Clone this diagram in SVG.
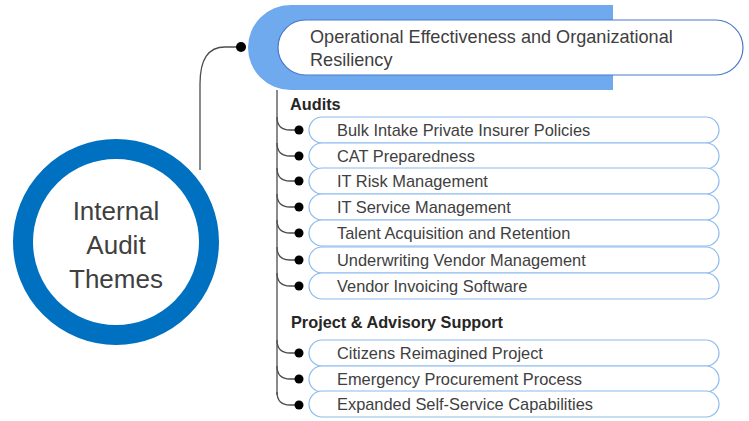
<svg xmlns="http://www.w3.org/2000/svg" width="749" height="421" viewBox="0 0 749 421">
  <style>
    .txt { font-family: "Liberation Sans", Arial, sans-serif; fill: #404040; }
    .item { fill: #ffffff; stroke: #8cbaf0; stroke-width: 1.2; }
    .item-label { font-size: 16.4px; }
    .heading { font-size: 16.3px; font-weight: bold; fill: #262626; }
    .conn { fill: none; stroke: #4d4d4d; stroke-width: 1.3; }
    .dot { fill: #000000; }
  </style>
  <defs>
    <rect id="pill" x="309" y="0" width="410" height="26" rx="13" ry="13" class="item"/>
  </defs>

  <!-- Connectors -->
  <g id="connectors">
    <path class="conn" d="M 200 170 V 84 Q 200 47 225 47 H 241" stroke="#333"/>
    <circle class="dot" cx="241" cy="47" r="5"/>
    <path class="conn" d="M 277 90 V 395"/>
    <g id="branches">
      <path class="conn" d="M 277 117 Q 277 130 290 130 H 299"/>
      <path class="conn" d="M 277 143 Q 277 156 290 156 H 299"/>
      <path class="conn" d="M 277 168 Q 277 181 290 181 H 299"/>
      <path class="conn" d="M 277 194 Q 277 207 290 207 H 299"/>
      <path class="conn" d="M 277 220 Q 277 233 290 233 H 299"/>
      <path class="conn" d="M 277 247 Q 277 260 290 260 H 299"/>
      <path class="conn" d="M 277 273 Q 277 286 290 286 H 299"/>
      <path class="conn" d="M 277 340 Q 277 353 290 353 H 299"/>
      <path class="conn" d="M 277 366 Q 277 379 290 379 H 299"/>
      <path class="conn" d="M 277 392 Q 277 405 290 405 H 299"/>
    </g>
    <g id="branch-dots">
      <circle class="dot" cx="299" cy="130" r="4.5"/>
      <circle class="dot" cx="299" cy="156" r="4.5"/>
      <circle class="dot" cx="299" cy="181" r="4.5"/>
      <circle class="dot" cx="299" cy="207" r="4.5"/>
      <circle class="dot" cx="299" cy="233" r="4.5"/>
      <circle class="dot" cx="299" cy="260" r="4.5"/>
      <circle class="dot" cx="299" cy="286" r="4.5"/>
      <circle class="dot" cx="299" cy="353" r="4.5"/>
      <circle class="dot" cx="299" cy="379" r="4.5"/>
      <circle class="dot" cx="299" cy="405" r="4.5"/>
    </g>
  </g>

  <!-- Central theme circle -->
  <g id="node-internal-audit-themes">
    <circle cx="116" cy="242" r="93" fill="#ffffff" stroke="#0070c0" stroke-width="20"/>
    <text class="txt" x="116" y="220" font-size="26" text-anchor="middle">Internal</text>
    <text class="txt" x="116" y="254" font-size="26" text-anchor="middle">Audit</text>
    <text class="txt" x="116" y="288" font-size="26" text-anchor="middle">Themes</text>
  </g>

  <!-- Main theme header -->
  <g id="node-operational">
    <path d="M 290.5 5 H 613 V 90 H 290.5 A 42.5 42.5 0 0 1 290.5 5 Z" fill="#6faaef"/>
    <rect x="278" y="20" width="465" height="55" rx="27.5" ry="27.5" fill="#ffffff" stroke="#4a78c8" stroke-width="1.2"/>
    <text class="txt" x="310" y="43" font-size="18.1">Operational Effectiveness and Organizational</text>
    <text class="txt" x="310" y="66" font-size="18.1">Resiliency</text>
  </g>

  <!-- Section headings -->
  <g id="heading-audits">
    <text class="txt heading" x="290" y="110">Audits</text>
  </g>
  <g id="heading-project">
    <text class="txt heading" x="291" y="328">Project &amp; Advisory Support</text>
  </g>

  <!-- Audit items -->
  <g id="item-bulk-intake">
    <use href="#pill" y="117"/>
    <text class="txt item-label" x="337" y="136">Bulk Intake Private Insurer Policies</text>
  </g>
  <g id="item-cat">
    <use href="#pill" y="143"/>
    <text class="txt item-label" x="337" y="162">CAT Preparedness</text>
  </g>
  <g id="item-it-risk">
    <use href="#pill" y="168"/>
    <text class="txt item-label" x="337" y="187">IT Risk Management</text>
  </g>
  <g id="item-it-service">
    <use href="#pill" y="194"/>
    <text class="txt item-label" x="337" y="213">IT Service Management</text>
  </g>
  <g id="item-talent">
    <use href="#pill" y="220"/>
    <text class="txt item-label" x="337" y="239">Talent Acquisition and Retention</text>
  </g>
  <g id="item-underwriting">
    <use href="#pill" y="247"/>
    <text class="txt item-label" x="337" y="266">Underwriting Vendor Management</text>
  </g>
  <g id="item-vendor-invoicing">
    <use href="#pill" y="273"/>
    <text class="txt item-label" x="337" y="292">Vendor Invoicing Software</text>
  </g>

  <!-- Project & advisory items -->
  <g id="item-citizens">
    <use href="#pill" y="340"/>
    <text class="txt item-label" x="337" y="359">Citizens Reimagined Project</text>
  </g>
  <g id="item-emergency">
    <use href="#pill" y="366"/>
    <text class="txt item-label" x="337" y="385">Emergency Procurement Process</text>
  </g>
  <g id="item-expanded">
    <use href="#pill" y="391"/>
    <text class="txt item-label" x="337" y="410">Expanded Self-Service Capabilities</text>
  </g>
</svg>
